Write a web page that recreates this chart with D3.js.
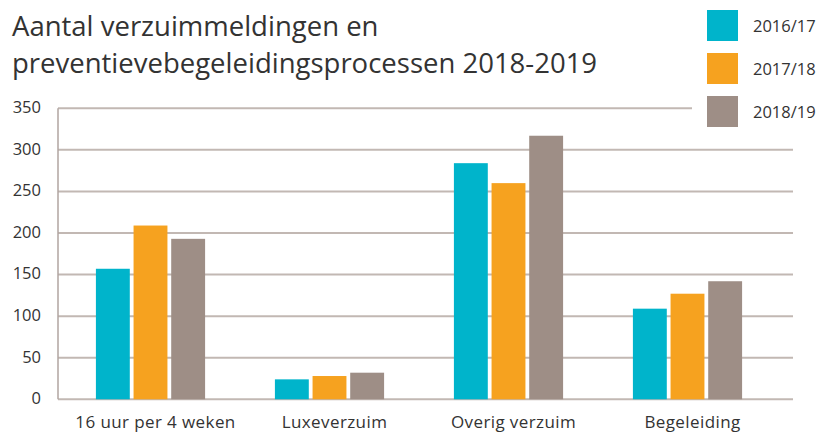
<!DOCTYPE html>
<html>
<head>
<meta charset="utf-8">
<script src="https://cdn.jsdelivr.net/npm/d3@7"></script>
<style>
  html, body { margin: 0; padding: 0; background: #fff; }
  svg { display: block; font-family: "Open Sans", "Noto Sans", sans-serif; }
</style>
</head>
<body>
<svg id="chart" width="820" height="440"></svg>
<script>
const titleLines = ["Aantal verzuimmeldingen en", "preventievebegeleidingsprocessen 2018-2019"];
const categories = ["16 uur per 4 weken", "Luxeverzuim", "Overig verzuim", "Begeleiding"];
const seriesNames = ["2016/17", "2017/18", "2018/19"];
const values2016 = [157, 24, 284, 109];
const values2017 = [209, 28, 260, 127];
const values2018 = [193, 32, 317, 142];
const yTicks = [0, 50, 100, 150, 200, 250, 300, 350];
const colors = ["#00b4cb", "#f6a21f", "#9e8e86"];

(function () {
const seriesValues = [values2016, values2017, values2018];
const data = categories.map((c, i) => ({
  cat: c,
  vals: seriesNames.map((s, j) => ({ s, v: seriesValues[j][i] }))
}));

const svg = d3.select("#chart");
const plotLeft = 58, plotRight = 793, plotTop = 108.3, plotBottom = 399.3;

const y = d3.scaleLinear().domain([0, 350]).range([plotBottom, plotTop]);
const x0 = d3.scaleBand().domain(categories).range([61, 777]).paddingInner(0.39).paddingOuter(0.195);
const x1 = d3.scaleBand().domain(seriesNames).range([0, x0.bandwidth()]).paddingInner(0.1);

// title
const title = svg.append("text").attr("x", 12).attr("fill", "#333")
  .style("font-size", "27.5px");
titleLines.forEach((t, i) => {
  title.append("tspan").attr("x", 12).attr("y", 36 + i * 37).text(t);
});

// gridlines
svg.append("g").selectAll("line").data(yTicks).join("line")
  .attr("x1", plotLeft)
  .attr("x2", d => d === 350 ? 692 : plotRight)
  .attr("y1", d => y(d)).attr("y2", d => y(d))
  .attr("stroke", "#c2b8b3").attr("stroke-width", 2);

// y axis line
svg.append("line").attr("x1", plotLeft).attr("x2", plotLeft).attr("y1", plotTop).attr("y2", plotBottom)
  .attr("stroke", "#b0a5a0").attr("stroke-width", 1.5);

// y axis labels
const yAxis = d3.axisLeft(y).tickValues(yTicks).tickSize(0).tickPadding(0);
const ya = svg.append("g").attr("transform", `translate(41,-1)`).call(yAxis);
ya.select(".domain").remove();
ya.selectAll("text").attr("fill", "#333").style("font-size", "16.5px")
  .style("font-family", "\"Open Sans\", sans-serif");

// bars
const groups = svg.append("g").selectAll("g").data(data).join("g")
  .attr("transform", d => `translate(${x0(d.cat)},0)`);
groups.selectAll("rect").data(d => d.vals).join("rect")
  .attr("x", d => x1(d.s))
  .attr("width", x1.bandwidth())
  .attr("y", d => y(d.v))
  .attr("height", d => plotBottom - y(d.v))
  .attr("fill", (d, i) => colors[i]);

// x axis labels
const xAxis = d3.axisBottom(x0).tickSize(0).tickPadding(0);
const xa = svg.append("g").attr("transform", `translate(5,${plotBottom + 17})`).call(xAxis);
xa.select(".domain").remove();
xa.selectAll("text").attr("fill", "#333").style("font-size", "17px").style("letter-spacing", "0.4px")
  .style("font-family", "\"Open Sans\", sans-serif");

// legend
const legend = svg.append("g").selectAll("g").data(seriesNames).join("g")
  .attr("transform", (d, i) => `translate(707,${10 + i * 43})`);
legend.append("rect").attr("width", 31).attr("height", 31).attr("fill", (d, i) => colors[i]);
legend.append("text").attr("x", 46).attr("y", 22).attr("fill", "#333")
  .style("font-size", "16.5px").text(d => d);
})();
</script>
</body>
</html>
